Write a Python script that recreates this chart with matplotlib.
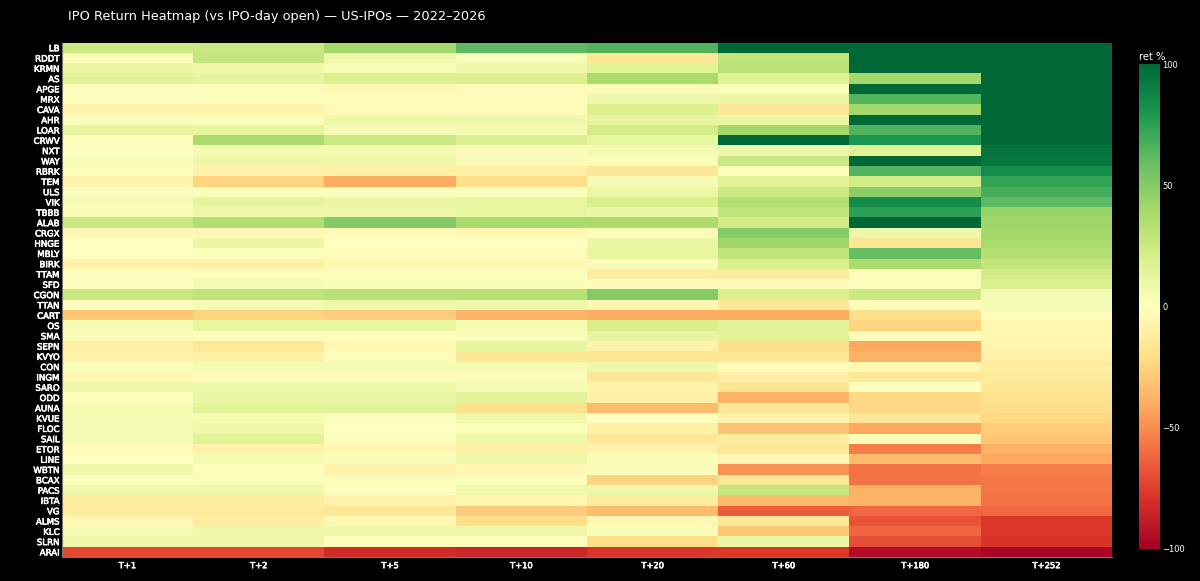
import numpy as np
import matplotlib
matplotlib.use("Agg")
import matplotlib.pyplot as plt
import matplotlib.patheffects as pe

plt.rcParams['font.family'] = ['DejaVu Sans']

horizons = ["T+1", "T+2", "T+5", "T+10", "T+20", "T+60", "T+180", "T+252"]

tickers = ["LB", "RDDT", "KRMN", "AS", "APGE", "MRX", "CAVA", "AHR", "LOAR", "CRWV",
           "NXT", "WAY", "RBRK", "TEM", "ULS", "VIK", "TBBB", "ALAB", "CRGX", "HNGE",
           "MBLY", "BIRK", "TTAM", "SFD", "CGON", "TTAN", "CART", "OS", "SMA", "SEPN",
           "KVYO", "CON", "INGM", "SARO", "ODD", "AUNA", "KVUE", "FLOC", "SAIL", "ETOR",
           "LINE", "WBTN", "BCAX", "PACS", "IBTA", "VG", "ALMS", "KLC", "SLRN", "ARAI"]

# returns in % per horizon, one list per column (top row first)
ret_t1 = [25, 3, 10, 15, 0, 0, -8, 2, 12, -3,
          0, 3, 2, -8, 2, 5, 3, 25, -5, 0,
          0, -8, 1, 1, 25, 1, -30, 5, 3, -10,
          -8, 2, -5, 8, 1, 5, 5, 5, 5, -2,
          0, 8, 2, 8, -12, -12, -5, 5, 8, -72]
ret_t2 = [27, 28, 8, 12, -3, 2, -8, 3, 12, 38,
          5, 8, -8, -25, 2, 12, 8, 35, -5, 10,
          2, -10, 2, 5, 30, 5, -25, 12, 1, -15,
          -10, 5, -3, 8, 10, 15, 5, 8, 15, -8,
          5, 1, 3, 8, -12, -13, -12, 8, 8, -72]
ret_t5 = [40, 8, 3, 18, -5, -2, -3, 8, 5, 25,
          5, 8, -10, -40, 2, 10, 8, 50, -2, 0,
          -3, -5, 2, 3, 32, 8, -28, 12, 1, -5,
          -3, 5, -3, 8, 10, 15, 2, 0, 2, -5,
          3, -8, 3, 0, -8, -15, -5, 8, 1, -82]
ret_t10 = [62, 3, 8, 18, -3, -2, -2, 8, 6, 18,
           3, 3, -10, -20, 2, 12, 12, 38, -5, 0,
           -3, -5, 2, 3, 33, 8, -38, 5, 3, 12,
           -15, 5, 3, 5, 15, -18, 8, 2, 8, -10,
           8, -5, 2, 8, -5, -28, -20, 8, 1, -84]
ret_t20 = [65, -15, 15, 38, 3, 8, 18, 12, 22, 12,
           5, 3, -15, 5, 10, 20, 10, 38, -3, 10,
           12, 3, -12, -2, 50, -5, -40, 20, 12, -8,
           -17, 8, -15, -8, -10, -35, 0, -10, -15, -8,
           3, 3, -25, 8, -12, -35, -5, 3, -20, -78]
ret_t60 = [130, 30, 32, 15, 2, 10, -15, 10, 40, 140,
           8, 25, 2, 15, 25, 35, 30, 22, 50, 42,
           30, 20, -13, -3, 18, -15, -40, 15, 15, -20,
           -17, -3, -10, -17, -38, -15, -8, -32, -12, -15,
           -5, -48, -15, 28, -35, -65, -15, -30, 10, -78]
ret_t180 = [160, 150, 140, 40, 120, 65, 40, 110, 65, 80,
            15, 105, 65, 22, 48, 85, 75, 105, 8, -15,
            60, 38, -3, 1, 25, -2, -20, -25, -2, -42,
            -38, -5, -15, 0, -22, -23, -15, -42, -3, -55,
            -33, -58, -58, -38, -38, -62, -68, -62, -70, -95]
ret_t252 = [300, 250, 220, 200, 180, 160, 140, 125, 115, 105,
            95, 93, 85, 73, 68, 62, 44, 42, 40, 38,
            35, 28, 22, 18, 5, 5, -2, -5, -6, -7,
            -9, -11, -13, -15, -18, -20, -23, -28, -31, -38,
            -42, -55, -57, -57, -58, -62, -78, -78, -79, -97]

grid = np.array([ret_t1, ret_t2, ret_t5, ret_t10, ret_t20, ret_t60, ret_t180, ret_t252]).T

fig = plt.figure(figsize=(12, 5.81), dpi=100, facecolor="black")
ax = fig.add_axes([0.0514, 0.0413, 0.8753, 0.8855])
ax.set_facecolor("black")

mesh = ax.pcolormesh(np.arange(len(horizons) + 1), np.arange(len(tickers) + 1), grid,
                     cmap="RdYlGn", vmin=-100, vmax=100, shading="flat")
ax.set_xlim(0, len(horizons))
ax.set_ylim(len(tickers), 0)

heavy = [pe.withStroke(linewidth=0.45, foreground="white")]

ax.set_xticks(np.arange(len(horizons)) + 0.5)
ax.set_xticklabels(horizons, color="white", fontsize=6.0)
ax.set_yticks(np.arange(len(tickers)) + 0.5)
ax.set_yticklabels(tickers, color="white", fontsize=6.2)
for lbl in ax.get_xticklabels() + ax.get_yticklabels():
    lbl.set_path_effects(heavy)
ax.tick_params(length=0)
ax.tick_params(axis="y", pad=1.5)
ax.tick_params(axis="x", pad=3)
for side in ["top", "right"]:
    ax.spines[side].set_visible(False)
for side in ["left", "bottom"]:
    ax.spines[side].set_color("#777777")
    ax.spines[side].set_linewidth(0.8)

fig.text(0.0567, 0.972, "IPO Return Heatmap (vs IPO-day open) \u2014 US-IPOs \u2014 2022\u20132026",
         color="white", fontsize=9.3, va="center", ha="left")

# colorbar
cax = fig.add_axes([0.949, 0.0551, 0.0175, 0.8347])
cb = fig.colorbar(mesh, cax=cax, ticks=[-100, -50, 0, 50, 100])
cb.outline.set_visible(False)
cax.tick_params(length=0, colors="white", labelsize=6.0, pad=2)
cax.set_title("ret %", color="white", fontsize=7.2, loc="left", pad=3)

fig.savefig("out.png", dpi=100, facecolor="black")
